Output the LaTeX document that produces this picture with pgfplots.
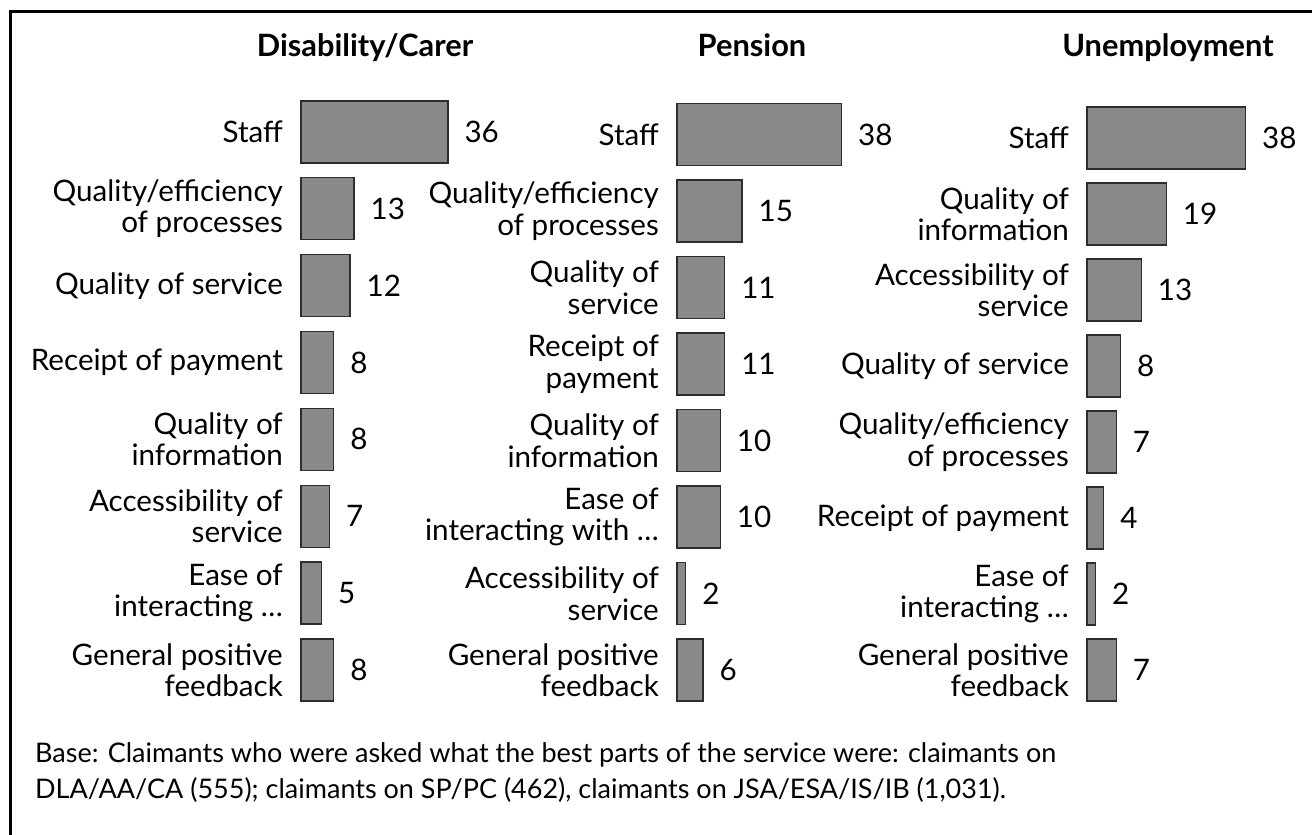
\documentclass[border=0pt]{standalone}
\usepackage{fontspec}
\setmainfont{Lato}
\usepackage{pgfplots}
\pgfplotsset{compat=1.18}
\definecolor{barfill}{RGB}{136,137,139}
\definecolor{baredge}{RGB}{45,45,45}
\newcommand{\lblfont}{\fontsize{29.6}{31.5}\selectfont}
\newcommand{\dd}{.\kern0.5pt.\kern0.5pt.}
\pgfplotsset{
  panel/.style={
    scale only axis,
    anchor=south west,
    xmin=0, xmax=40,
    ymin=-0.5, ymax=7.5,
    y dir=reverse,
    axis line style={draw=none},
    major tick length=0pt,
    xtick=\empty,
    ytick={0,1,2,3,4,5,6,7},
    yticklabel style={font=\lblfont, align=right, inner xsep=0pt, xshift=-18pt},
    xbar,
    bar width=62pt,
    point meta=x,
    nodes near coords,
    nodes near coords style={font=\lblfont, anchor=west, inner xsep=0pt, xshift=16pt},
    /pgf/number format/assume math mode=true,
    clip=false,
  },
  panelbar/.style={fill=barfill, draw=baredge, line width=1.3pt},
}
\begin{document}
\begin{tikzpicture}
\path[use as bounding box] (0pt,0pt) rectangle (1312pt,835pt);
\draw[line width=3pt] (10pt,-20pt) -- (10pt,823pt) -- (1340pt,823pt) -- (1340pt,-20pt) -- cycle;

% Disability/Carer
\begin{axis}[panel, at={(301pt,126.6pt)}, width=163.2pt, height=614.9pt,
  yticklabels={Staff, {Quality/efficiency\\of processes}, Quality of service, Receipt of payment, {Quality of\\information}, {Accessibility of\\service}, {Ease of\\interacting \dd}, {General positive\\feedback}}]
\addplot[panelbar] coordinates {(36,0) (13,1) (12,2) (8,3) (8,4) (7,5) (5,6) (8,7)};
\end{axis}

% Pension
\begin{axis}[panel, at={(677pt,126.75pt)}, width=173.2pt, height=612pt,
  yticklabels={Staff, {Quality/efficiency\\of processes}, {Quality of\\service}, {Receipt of\\payment}, {Quality of\\information}, {Ease of\\interacting with \dd}, {Accessibility of\\service}, {General positive\\feedback}}]
\addplot[panelbar] coordinates {(38,0) (15,1) (11,2) (11,3) (10,4) (10,5) (2,6) (6,7)};
\end{axis}

% Unemployment
\begin{axis}[panel, at={(1087pt,127pt)}, width=166.8pt, height=608pt,
  yticklabels={Staff, {Quality of\\information}, {Accessibility of\\service}, Quality of service, {Quality/efficiency\\of processes}, Receipt of payment, {Ease of\\interacting \dd}, {General positive\\feedback}}]
\addplot[panelbar] coordinates {(38,0) (19,1) (13,2) (8,3) (7,4) (4,5) (2,6) (7,7)};
\end{axis}

\node[anchor=base, font=\fontsize{30.8}{33}\selectfont\bfseries] at (365pt,778pt) {Disability/Carer};
\node[anchor=base, font=\fontsize{30.8}{33}\selectfont\bfseries] at (752pt,778pt) {Pension};
\node[anchor=base, font=\fontsize{30.8}{33}\selectfont\bfseries] at (1168pt,778pt) {Unemployment};

\node[anchor=base west, inner sep=0pt, font=\fontsize{27}{36}\selectfont] at (35pt,72pt) {Base: Claimants who were asked what the best parts of the service were: claimants on};
\node[anchor=base west, inner sep=0pt, font=\fontsize{27}{36}\selectfont] at (35pt,36pt) {DLA/AA/CA (555); claimants on SP/PC (462), claimants on JSA/ESA/IS/IB (1,031).};
\end{tikzpicture}
\end{document}
